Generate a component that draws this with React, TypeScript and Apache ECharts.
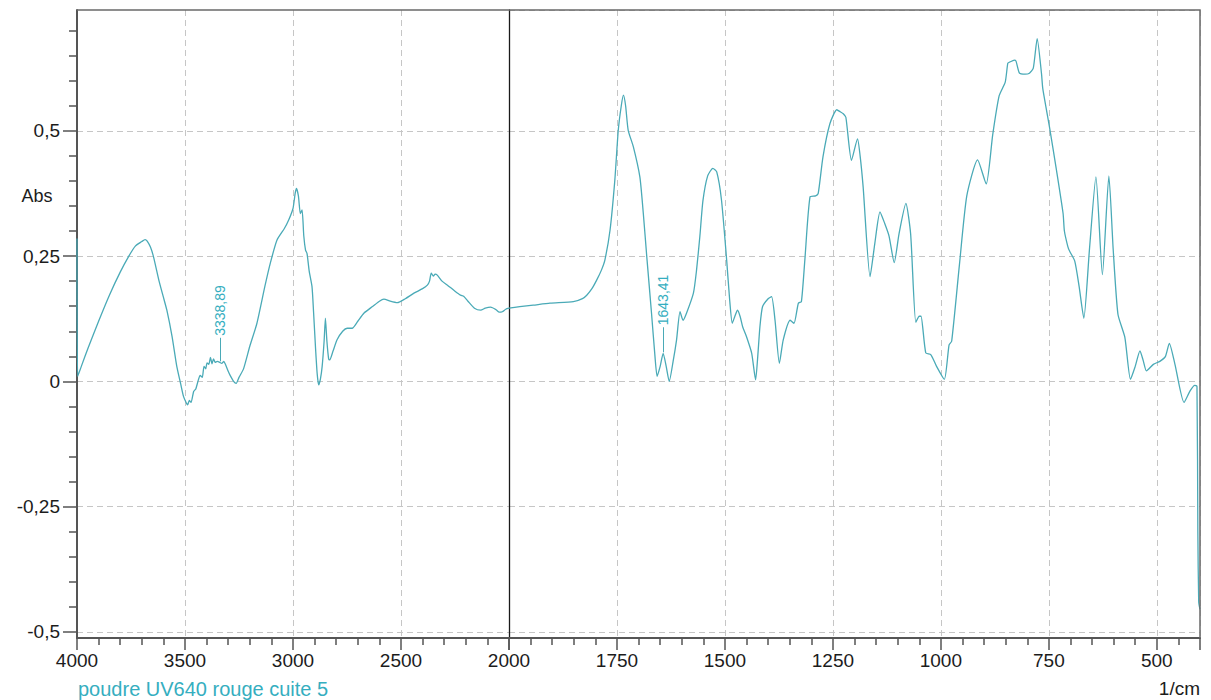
import React, { useEffect, useRef } from "react";
import * as echarts from "echarts";

// ---- data (wavenumber in 1/cm, absorbance) ----
const wavenumbers = [
  4000, 3997, 3980, 3950, 3900, 3850, 3800, 3760, 3730, 3700, 3685, 3675, 3660, 3646, 3620, 3600,
  3584, 3560, 3538, 3520, 3507, 3495, 3488, 3480, 3472, 3460, 3450, 3440, 3430, 3420, 3412, 3404,
  3398, 3390, 3382, 3375, 3368, 3360, 3350, 3339, 3330, 3320, 3314, 3300, 3291, 3275, 3263, 3250,
  3229, 3200, 3167, 3130, 3105, 3074, 3040, 3020, 3000, 2990, 2984, 2975, 2966, 2958, 2950, 2942,
  2935, 2925, 2912, 2905, 2896, 2888, 2881, 2873, 2865, 2856, 2850, 2843, 2835, 2830, 2815, 2796,
  2770, 2749, 2726, 2700, 2672, 2630, 2600, 2579, 2550, 2517, 2480, 2440, 2400, 2378, 2368, 2360,
  2350, 2342, 2332, 2310, 2285, 2250, 2224, 2210, 2190, 2160, 2131, 2110, 2085, 2060, 2045, 2031,
  2015, 2000,
  1975, 1944, 1905, 1851, 1830, 1820, 1808, 1797, 1786, 1778, 1766, 1755, 1747, 1740, 1735, 1730,
  1724, 1712, 1697, 1689, 1681, 1670, 1662, 1657, 1650, 1643, 1636, 1629, 1620, 1612, 1604, 1597,
  1589, 1573, 1566, 1558, 1551, 1540, 1528, 1519, 1508, 1496, 1489, 1483, 1477, 1471, 1465, 1459,
  1450, 1438, 1429, 1424, 1419, 1413, 1400, 1392, 1384, 1374, 1365, 1349, 1340, 1330, 1323, 1315,
  1303, 1290, 1284, 1273, 1257, 1241, 1233, 1226, 1220, 1207, 1193, 1187, 1180, 1164, 1153, 1141,
  1130, 1120, 1108, 1097, 1081, 1070, 1058, 1050, 1046, 1035, 1023, 1010, 992, 981, 975, 957,
  940, 915, 895, 880, 865, 851, 845, 841, 830, 826, 818, 805, 795, 786, 777, 767,
  764, 748, 733, 717, 714, 706, 702, 690, 680, 669, 656, 641, 626, 611, 601, 590,
  574, 561, 550, 539, 531, 524, 508, 493, 480, 471, 458, 437, 423, 412, 407, 405,
  403, 400,
];
const absorbance = [
  0.285, 0.01, 0.03, 0.065, 0.12, 0.172, 0.218, 0.25, 0.27, 0.279, 0.283, 0.28, 0.268, 0.249, 0.2, 0.168,
  0.142, 0.09, 0.03, -0.005, -0.03, -0.042, -0.047, -0.038, -0.042, -0.02, -0.015, 0.0, 0.012, 0.008, 0.03, 0.025,
  0.037, 0.034, 0.048, 0.035, 0.045, 0.038, 0.04, 0.038, 0.036, 0.04, 0.035, 0.02, 0.012, 0.0, -0.004, 0.008,
  0.025, 0.07, 0.116, 0.19, 0.236, 0.282, 0.305, 0.322, 0.345, 0.375, 0.385, 0.37, 0.335, 0.342, 0.29, 0.262,
  0.255, 0.22, 0.189, 0.14, 0.069, 0.015, -0.007, 0.005, 0.03, 0.08, 0.126, 0.08, 0.045, 0.043, 0.06, 0.083,
  0.1, 0.106, 0.106, 0.12, 0.136, 0.15, 0.16, 0.164, 0.16, 0.157, 0.165, 0.176, 0.185, 0.192, 0.2, 0.216,
  0.21, 0.214, 0.212, 0.2, 0.192, 0.18, 0.172, 0.17, 0.16, 0.146, 0.142, 0.146, 0.148, 0.143, 0.138, 0.139,
  0.144, 0.146,
  0.149, 0.152, 0.156, 0.159, 0.165, 0.172, 0.185, 0.202, 0.222, 0.242, 0.302, 0.401, 0.501, 0.55, 0.571, 0.55,
  0.501, 0.468, 0.408, 0.335, 0.249, 0.136, 0.05, 0.01, 0.03, 0.056, 0.03, 0.0, 0.04, 0.083, 0.139, 0.122,
  0.136, 0.176, 0.22, 0.29, 0.36, 0.41, 0.425, 0.418, 0.362, 0.242, 0.162, 0.116, 0.13, 0.142, 0.13, 0.109,
  0.089, 0.056, 0.003, 0.05, 0.109, 0.149, 0.165, 0.169, 0.122, 0.036, 0.083, 0.122, 0.116, 0.156, 0.159, 0.242,
  0.368, 0.37, 0.375, 0.448, 0.514, 0.542, 0.538, 0.534, 0.527, 0.441, 0.484, 0.45, 0.388, 0.209, 0.275, 0.338,
  0.315, 0.29, 0.237, 0.294, 0.355, 0.294, 0.118, 0.13, 0.13, 0.057, 0.053, 0.03, 0.004, 0.073, 0.08, 0.233,
  0.37, 0.442, 0.394, 0.492, 0.57, 0.597, 0.635, 0.637, 0.641, 0.639, 0.615, 0.613, 0.615, 0.625, 0.684, 0.614,
  0.584, 0.505, 0.425, 0.335, 0.3, 0.269, 0.26, 0.24, 0.19, 0.126, 0.263, 0.408, 0.213, 0.41, 0.263, 0.134,
  0.088, 0.004, 0.03, 0.061, 0.04, 0.021, 0.034, 0.04, 0.05, 0.076, 0.034, -0.042, -0.019, -0.008, -0.01, -0.3,
  -0.44, -0.455,
];

const yTickValues = [-0.5, -0.25, 0, 0.25, 0.5];
const leftXLabels = [4000, 3500, 3000, 2500, 2000];
const rightXLabels = [1750, 1500, 1250, 1000, 750, 500];
const peakWavenumbers = [3338.89, 1643.41];
const peakLabels = ["3338,89", "1643,41"];
const peakLineFrom = [0.04, 0.058];
const peakLineTo = [0.087, 0.108];
const sampleName = "poudre UV640 rouge cuite 5";
const yAxisName = "Abs";
const xAxisUnit = "1/cm";

const FONT = '"Liberation Sans", Arial, Helvetica, sans-serif';
const TEAL = "#4aaab7";
const TEAL_TEXT = "#35aec0";
const AXIS = "#555555";
const FRAME = "#6a6a6a";
const GRIDLINE = "#c6c6c6";
const LABEL = "#1c1c1c";

const fmt = (v: number) => String(v).replace(".", ",");

export default function App() {
  const ref = useRef<HTMLDivElement>(null);

  useEffect(() => {
    if (!ref.current) return;
    const chart = echarts.init(ref.current, undefined, { renderer: "svg" });

    const pts = wavenumbers.map((w, i) => [w, absorbance[i]]);
    const leftData = pts.filter((p) => p[0] >= 2000);
    const rightData = pts.filter((p) => p[0] <= 2000);
    const peakSide = peakWavenumbers.map((w) => (w >= 2000 ? 0 : 1));

    const markFor = (side: number) => ({
      silent: true,
      symbol: ["none", "none"],
      label: { show: false },
      lineStyle: { color: TEAL, type: "solid", width: 1 },
      data: peakWavenumbers
        .map((w, i) => ({ w, i }))
        .filter((o) => peakSide[o.i] === side)
        .map((o) => [
          { coord: [o.w, peakLineFrom[o.i]] },
          { coord: [o.w, peakLineTo[o.i]] },
        ]),
    });

    const tickStyle = { color: AXIS, width: 1.5 };
    const splitStyle = { show: true, lineStyle: { color: GRIDLINE, type: [6, 4], width: 1 } };
    const labelStyle = { fontSize: 19, color: LABEL, fontFamily: FONT };
    const gridCommon = { top: 10, height: 628, show: false };

    const seriesCommon = {
      type: "line",
      showSymbol: false,
      symbol: "none",
      smooth: 0.2,
      lineStyle: { color: TEAL, width: 1.3 },
    };

    const option: any = {
      animation: false,
      backgroundColor: "#ffffff",
      grid: [
        { ...gridCommon, left: 77, width: 432 },
        { ...gridCommon, left: 509, width: 691 },
      ],
      xAxis: [
        {
          gridIndex: 0,
          type: "value",
          min: 2000,
          max: 4000,
          interval: 500,
          inverse: true,
          axisLine: { show: true, onZero: false, lineStyle: { color: AXIS, width: 2 } },
          axisTick: { show: true, length: 12, lineStyle: tickStyle },
          minorTick: { show: true, splitNumber: 5, length: 7, lineStyle: tickStyle },
          axisLabel: {
            ...labelStyle,
            margin: 13,
            customValues: leftXLabels,
            hideOverlap: false,
            formatter: (v: number) => String(v),
          },
          splitLine: splitStyle,
        },
        {
          gridIndex: 1,
          type: "value",
          min: 400,
          max: 2000,
          minInterval: 250,
          maxInterval: 250,
          inverse: true,
          axisLine: { show: true, onZero: false, lineStyle: { color: AXIS, width: 2 } },
          axisTick: { show: true, length: 12, lineStyle: tickStyle },
          minorTick: { show: true, splitNumber: 5, length: 7, lineStyle: tickStyle },
          axisLabel: {
            ...labelStyle,
            margin: 13,
            customValues: rightXLabels,
            hideOverlap: false,
            formatter: (v: number) => String(v),
          },
          splitLine: splitStyle,
        },
      ],
      yAxis: [
        {
          gridIndex: 0,
          type: "value",
          min: -0.512,
          max: 0.741,
          minInterval: 0.25,
          maxInterval: 0.25,
          axisLine: { show: true, onZero: false, lineStyle: { color: AXIS, width: 2 } },
          axisTick: { show: true, length: 14, customValues: yTickValues, lineStyle: tickStyle },
          minorTick: { show: true, splitNumber: 5, length: 8, lineStyle: tickStyle },
          axisLabel: {
            ...labelStyle,
            margin: 17,
            customValues: yTickValues,
            formatter: (v: number) => fmt(v),
          },
          splitLine: splitStyle,
        },
        {
          gridIndex: 1,
          type: "value",
          min: -0.512,
          max: 0.741,
          minInterval: 0.25,
          maxInterval: 0.25,
          axisLine: { show: true, onZero: false, lineStyle: { color: "#1a1a1a", width: 1.3 } },
          axisTick: { show: false },
          axisLabel: { show: false },
          splitLine: splitStyle,
        },
      ],
      series: [
        { ...seriesCommon, xAxisIndex: 0, yAxisIndex: 0, data: leftData, markLine: markFor(0) },
        { ...seriesCommon, xAxisIndex: 1, yAxisIndex: 1, data: rightData, markLine: markFor(1) },
      ],
    };

    chart.setOption(option);

    const px = (axis: number, v: number[]) =>
      chart.convertToPixel({ xAxisIndex: axis, yAxisIndex: axis }, v) as number[];

    const peakTexts = peakWavenumbers.map((w, i) => {
      const p = px(peakSide[i], [w, peakLineTo[i]]);
      return {
        type: "text",
        x: p[0],
        y: p[1] - 2,
        rotation: Math.PI / 2,
        silent: true,
        style: {
          text: peakLabels[i],
          fontSize: 14,
          fontFamily: FONT,
          fill: TEAL_TEXT,
          align: "left",
          verticalAlign: "middle",
        },
      };
    });

    // frame: top and right borders of the plotting area
    const topLeft = px(0, [4000, 0.741]);
    const topRight = px(1, [400, 0.741]);
    const bottomRight = px(1, [400, -0.512]);

    chart.setOption({
      graphic: [
        {
          type: "polyline",
          silent: true,
          z: 50,
          shape: { points: [topLeft, topRight, bottomRight] },
          style: { stroke: FRAME, lineWidth: 1.5, fill: "none" },
        },
        {
          type: "text",
          x: 37,
          y: 196,
          style: { text: yAxisName, fontSize: 18, fontFamily: FONT, fill: LABEL, align: "center", verticalAlign: "middle" },
        },
        {
          type: "text",
          x: 78,
          y: 689,
          style: { text: sampleName, fontSize: 20, fontFamily: FONT, fill: TEAL_TEXT, align: "left", verticalAlign: "middle" },
        },
        {
          type: "text",
          x: 1200,
          y: 688,
          style: { text: xAxisUnit, fontSize: 19, fontFamily: FONT, fill: LABEL, align: "right", verticalAlign: "middle" },
        },
        ...peakTexts,
      ],
    });

    return () => chart.dispose();
  }, []);

  return (
    <div
      ref={ref}
      style={{ position: "absolute", left: 0, top: 0, width: 1211, height: 700, background: "#fff" }}
    />
  );
}
